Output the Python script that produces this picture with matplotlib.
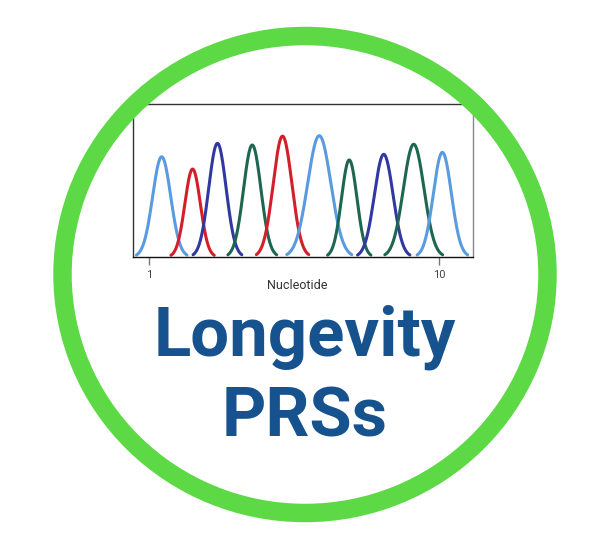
import numpy as np
import matplotlib.pyplot as plt
from matplotlib.patches import Ellipse

# chromatogram peaks
peak_pos = [1.39, 2.35, 3.12, 4.20, 5.14, 6.28, 7.21, 8.28, 9.21, 10.10]
peak_height = [0.655, 0.575, 0.743, 0.732, 0.790, 0.793, 0.634, 0.671, 0.737, 0.684]
peak_width = [0.28, 0.24, 0.27, 0.27, 0.29, 0.36, 0.24, 0.29, 0.32, 0.28]
peak_base = ["C", "A", "G", "T", "A", "C", "T", "G", "T", "C"]
base_colors = {"C": "#5A9BE0", "A": "#D41F2A", "G": "#3138A0", "T": "#1F6650"}

tick_pos = [1, 10]
tick_labels = ["1", "10"]
title_lines = ["Longevity", "PRSs"]

W, H = 602, 541
fig = plt.figure(figsize=(W / 100, H / 100), dpi=100, facecolor="white")

ax = fig.add_axes([133 / W, 1 - 257 / H, 340 / W, 153 / H])
for mu, h, s, b in zip(peak_pos, peak_height, peak_width, peak_base):
    x = np.linspace(mu - 2.8 * s, mu + 2.8 * s, 200)
    y = h * np.exp(-0.5 * ((x - mu) / s) ** 2)
    ax.plot(x, y, color=base_colors[b], linewidth=2.2, solid_capstyle="round", zorder=2)

ax.set_xlim(0.5, 11.05)
ax.set_ylim(0, 1)
ax.set_yticks([])
ax.set_xticks(tick_pos)
ax.set_xticklabels(tick_labels, family="Roboto", fontsize=8, color="#444444")
ax.tick_params(axis="x", length=5.8, width=1.0, color="#777777", pad=3.5)
for side, col in [("top", "#333333"), ("left", "#333333"), ("right", "#888888"), ("bottom", "#111111")]:
    ax.spines[side].set_color(col)
    ax.spines[side].set_linewidth(1.0)
ax.set_xlabel("Nucleotide", family="Roboto", fontsize=9, color="#333333")
ax.xaxis.set_label_coords((297 - 133) / 340, -(279.3 - 257) / 153)

# ring and title on a transparent overlay in pixel coordinates, above the chart
fg = fig.add_axes([0, 0, 1, 1], zorder=5)
fg.patch.set_alpha(0)
fg.set_xlim(0, W)
fg.set_ylim(H, 0)
fg.axis("off")
ring = Ellipse((305, 274.5), 485, 477, fill=False, edgecolor="#5DD945", linewidth=13.3)
fg.add_patch(ring)
for txt, y in zip(title_lines, [356, 436.7]):
    fg.text(305, y, txt, ha="center", va="baseline", fontsize=49.6,
            fontweight="bold", family="Roboto", color="#16538E")

fig.savefig("out.png", dpi=100, facecolor="white")
